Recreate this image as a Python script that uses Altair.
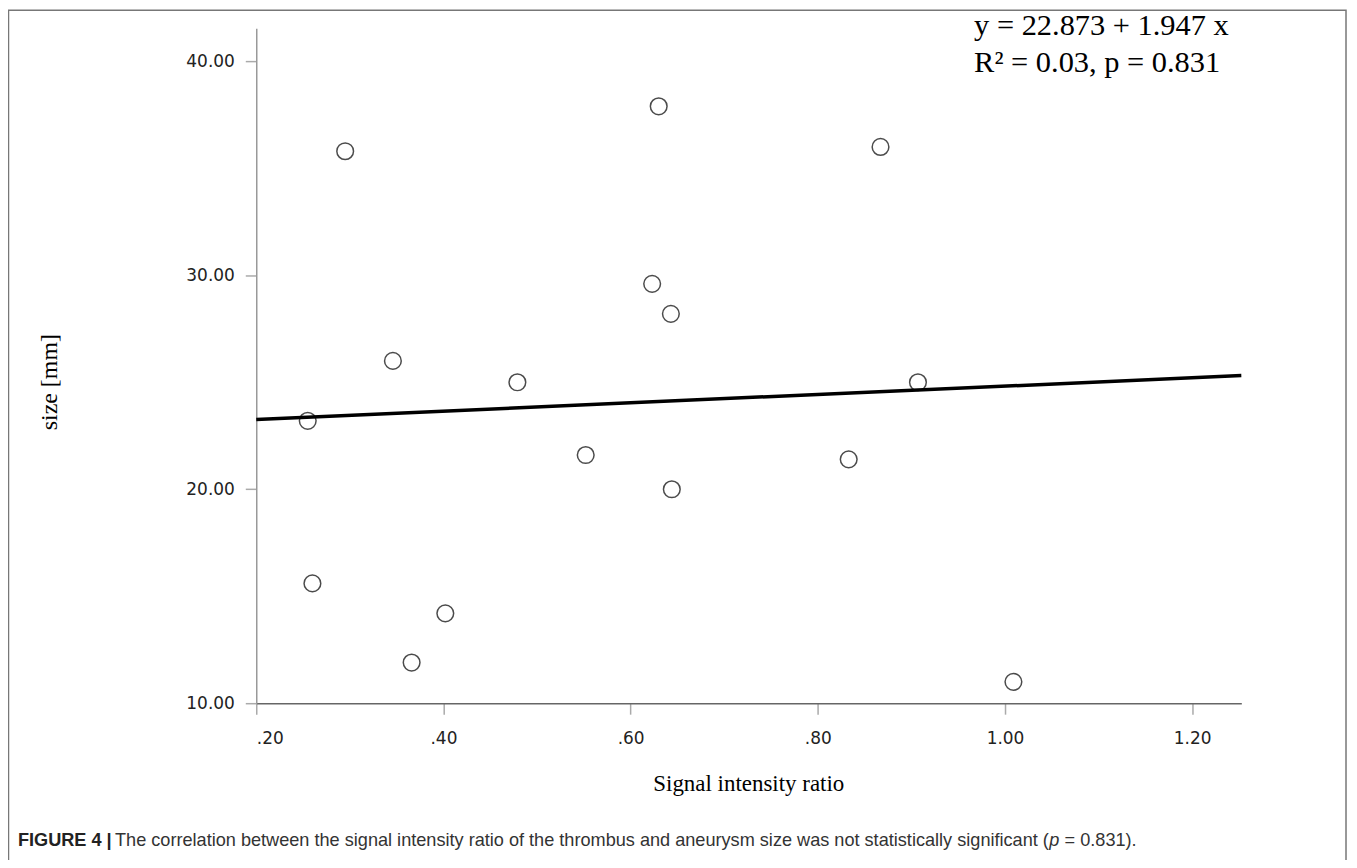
import altair as alt
import pandas as pd

# Data
ratio = [0.295, 0.630, 0.867, 0.623, 0.643, 0.346, 0.479, 0.907, 0.255, 0.552, 0.833, 0.644, 0.260, 0.366, 0.402, 1.009]
size_mm = [35.8, 37.9, 36.0, 29.6, 28.2, 26.0, 25.0, 25.0, 23.2, 21.6, 21.4, 20.0, 15.6, 11.9, 14.2, 11.0]

# Fitted line y = 22.873 + 1.947 x at the two ends of the x range
fit_x = [0.20, 1.2525]
fit_y = [23.262, 25.312]

x_ticks = [0.2, 0.4, 0.6, 0.8, 1.0, 1.2]
y_ticks = [10, 20, 30, 40]
x_domain = [0.2, 1.2525]
y_domain = [10, 41.55]

eq_line1 = "y = 22.873 + 1.947 x"
eq_line2 = "R\u00b2 = 0.03, p = 0.831"
x_title = "Signal intensity ratio"
y_title = "size [mm]"
cap_bold = "FIGURE 4 |"
cap_main = "The correlation between the signal intensity ratio of the thrombus and aneurysm size was not statistically significant ("
cap_p = "p"
cap_tail = " = 0.831)."

pts = pd.DataFrame({"ratio": ratio, "size": size_mm})
fit = pd.DataFrame({"ratio": fit_x, "size": fit_y})
one = pd.DataFrame({"a": [0]})

xs = alt.Scale(domain=x_domain, nice=False, zero=False)
ys = alt.Scale(domain=y_domain, nice=False, zero=False)

x_axis = alt.Axis(values=x_ticks, title=None, grid=False,
                  labelExpr="replace(format(datum.value, '.2f'), '0.', '.')",
                  domainColor="#666", domainWidth=1.5, tickColor="#aaa", tickWidth=1.5,
                  tickSize=11, labelPadding=16, labelFont="DejaVu Sans", labelFontSize=17,
                  labelColor="#222")
y_axis = alt.Axis(values=y_ticks, title=None, grid=False, format=".2f",
                  domainColor="#999", domainWidth=1.5, tickColor="#aaa", tickWidth=1.5,
                  tickSize=11, labelPadding=11, labelFont="DejaVu Sans", labelFontSize=17,
                  labelColor="#222")

points = alt.Chart(pts).mark_point(shape="circle", filled=False, size=280,
                                   strokeWidth=1.5, color="black").encode(
    x=alt.X("ratio:Q", scale=xs, axis=x_axis),
    y=alt.Y("size:Q", scale=ys, axis=y_axis),
)

line = alt.Chart(fit).mark_line(color="black", strokeWidth=3.5).encode(
    x=alt.X("ratio:Q", scale=xs),
    y=alt.Y("size:Q", scale=ys),
)

frame = alt.Chart(one).mark_rect(fillOpacity=0, stroke="#777", strokeWidth=1.5).encode(
    x=alt.value(-248.5), x2=alt.value(1093), y=alt.value(-18), y2=alt.value(880)
)

def txt(s, x, y, font, size, align="left", weight="normal", style="normal", color="black", angle=0):
    return alt.Chart(one).mark_text(text=s, align=align, baseline="middle", font=font,
                                   fontSize=size, fontWeight=weight, fontStyle=style,
                                   color=color, angle=angle).encode(
        x=alt.value(x), y=alt.value(y))

serif = "Liberation Serif"
sans = "Liberation Sans"
cap_size = 18.2
texts = [
    txt(eq_line1, 720, -2, serif, 30.5),
    txt(eq_line2, 720, 35, serif, 30.5),
    txt(x_title, 494, 758, serif, 23, align="center"),
    txt(y_title, -207, 355, serif, 24, align="center", angle=270),
    txt(cap_bold, -239, 815, sans, cap_size, weight="bold", color="#222"),
    txt(cap_main, 795, 815, sans, cap_size, align="right", color="#333"),
    txt(cap_p, 805.5, 815, sans, cap_size, align="right", style="italic", color="#333"),
    txt(cap_tail, 883, 815, sans, cap_size, align="right", color="#333"),
]

chart = alt.layer(frame, line, points, *texts).properties(
    width=988, height=677,
    autosize=alt.AutoSizeParams(type="none"),
    padding={"left": 249, "top": 19, "right": 108, "bottom": 156},
    background="white",
).configure_view(stroke=None)

chart.save("out.html", embed_options={"renderer": "svg", "actions": False})
